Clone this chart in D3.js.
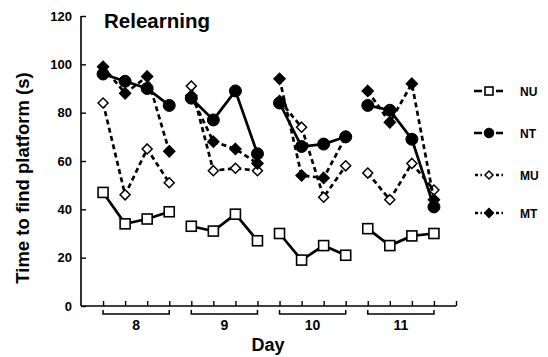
<!DOCTYPE html>
<html>
<head>
<meta charset="utf-8">
<script src="https://cdn.jsdelivr.net/npm/d3@7"></script>
<style>
  html, body { margin: 0; padding: 0; background: #fff; }
  svg { display: block; font-family: "Liberation Sans", Arial, Helvetica, sans-serif; font-weight: bold; }
</style>
</head>
<body>
<svg id="chart" width="548" height="357"></svg>
<script>
// ---- data ----
const days = ["8", "9", "10", "11"];
const trialsPerDay = 4;
const seriesNames = ["NU", "NT", "MU", "MT"];
const NU = [47, 34, 36, 39, 33, 31, 38, 27, 30, 19, 25, 21, 32, 25, 29, 30];
const NT = [96, 93, 90, 83, 86, 77, 89, 63, 84, 66, 67, 70, 83, 81, 69, 41];
const MU = [84, 46, 65, 51, 91, 56, 57, 56, 85, 74, 45, 58, 55, 44, 59, 48];
const MT = [99, 88, 95, 64, 87, 68, 65, 59, 94, 54, 53, 70, 89, 76, 92, 44];
const yTicks = [0, 20, 40, 60, 80, 100, 120];
const xTickCount = 17;

// ---- layout ----
const svg = d3.select("#chart");
const x = d3.scaleLinear().domain([0, 17]).range([81, 456]);
const y = d3.scaleLinear().domain([0, 120]).range([306, 16]);

const styles = {
  NU: { dash: null, shape: "square", fill: "#fff" },
  NT: { dash: null, shape: "circle", fill: "#000" },
  MU: { dash: "5,3.5", shape: "diamond", fill: "#fff" },
  MT: { dash: "5,3.5", shape: "diamond", fill: "#000" }
};
const dataMap = { NU, NT, MU, MT };

function drawMarker(g, shape, fill, cx, cy, scale) {
  const s = scale || 1;
  if (shape === "square") {
    g.append("rect").attr("x", cx - 5 * s).attr("y", cy - 5 * s)
      .attr("width", 10 * s).attr("height", 10 * s)
      .attr("fill", fill).attr("stroke", "#000").attr("stroke-width", 1.6);
  } else if (shape === "circle") {
    g.append("circle").attr("cx", cx).attr("cy", cy).attr("r", 6 * s)
      .attr("fill", fill).attr("stroke", "#000").attr("stroke-width", 1);
  } else {
    const r = (fill === "#000" ? 5.5 : 5) * s;
    g.append("path")
      .attr("d", `M${cx},${cy - r}L${cx + r},${cy}L${cx},${cy + r}L${cx - r},${cy}Z`)
      .attr("fill", fill).attr("stroke", "#000").attr("stroke-width", 1.5);
  }
}

// ---- axes ----
const yAxis = d3.axisLeft(y).tickValues(yTicks).tickSize(-5).tickPadding(10);
const gy = svg.append("g").attr("transform", `translate(${x(0)},0)`).call(yAxis);
gy.select(".domain").attr("stroke-width", 1.6).attr("d", `M0,${y(120)}V${y(0)}`);
gy.selectAll(".tick line").attr("stroke-width", 1.4);
gy.selectAll(".tick text").attr("font-size", 13).attr("font-weight", "bold")
  .attr("font-family", "Liberation Sans, Arial, sans-serif").attr("x", -9);

const xAxis = d3.axisBottom(x).tickValues(d3.range(1, xTickCount + 1)).tickSize(-5).tickFormat("");
const gx = svg.append("g").attr("transform", `translate(0,${y(0)})`).call(xAxis);
gx.select(".domain").attr("stroke-width", 1.6).attr("d", `M${x(0)},0H${x(17)}`);
gx.selectAll(".tick line").attr("stroke-width", 1.4);

// day brackets
days.forEach((d, i) => {
  const x0 = x(i * trialsPerDay + 1), x1 = x(i * trialsPerDay + trialsPerDay);
  const by = 314;
  svg.append("path").attr("d", `M${x0},${by - 4}V${by}H${x1}V${by - 4}`)
    .attr("fill", "none").attr("stroke", "#000").attr("stroke-width", 1.5);
  svg.append("text").attr("x", (x0 + x1) / 2).attr("y", 330)
    .attr("text-anchor", "middle").attr("font-size", 14).text(d);
});

// ---- series ----
const drawOrder = ["MU", "MT", "NT", "NU"];
const line = d3.line().x(d => x(d.i + 1)).y(d => y(d.v));
drawOrder.forEach(name => {
  const st = styles[name];
  const vals = dataMap[name];
  const g = svg.append("g");
  days.forEach((d, di) => {
    const seg = vals.slice(di * trialsPerDay, di * trialsPerDay + trialsPerDay)
      .map((v, k) => ({ i: di * trialsPerDay + k, v }));
    g.append("path").attr("d", line(seg)).attr("fill", "none")
      .attr("stroke", "#000").attr("stroke-width", 2.7)
      .attr("stroke-dasharray", st.dash);
  });
  vals.forEach((v, i) => drawMarker(g, st.shape, st.fill, x(i + 1), y(v)));
});

// ---- legend ----
const legendY = [91, 133, 175, 213];
seriesNames.forEach((name, i) => {
  const st = styles[name];
  const g = svg.append("g");
  const ly = legendY[i];
  const cx = 489;
  if (st.dash) {
    g.append("path").attr("d", `M475,${ly}H482M496,${ly}H503`)
      .attr("stroke", "#000").attr("stroke-width", 2.4).attr("stroke-dasharray", "3,2.5");
  } else {
    g.append("path").attr("d", `M474,${ly}H482M496,${ly}H503`)
      .attr("stroke", "#000").attr("stroke-width", 2.4);
  }
  drawMarker(g, st.shape, st.fill, cx, ly, 0.8);
  g.append("text").attr("x", 520).attr("y", ly + 4.5).attr("font-size", 12).text(name);
});

// ---- titles ----
svg.append("text").attr("x", 104).attr("y", 28).attr("font-size", 20.5).text("Relearning");
svg.append("text").attr("transform", "translate(29,178) rotate(-90)")
  .attr("text-anchor", "middle").attr("font-size", 18.5).text("Time to find platform (s)");
svg.append("text").attr("x", 268).attr("y", 351).attr("text-anchor", "middle")
  .attr("font-size", 18).text("Day");
</script>
</body>
</html>
